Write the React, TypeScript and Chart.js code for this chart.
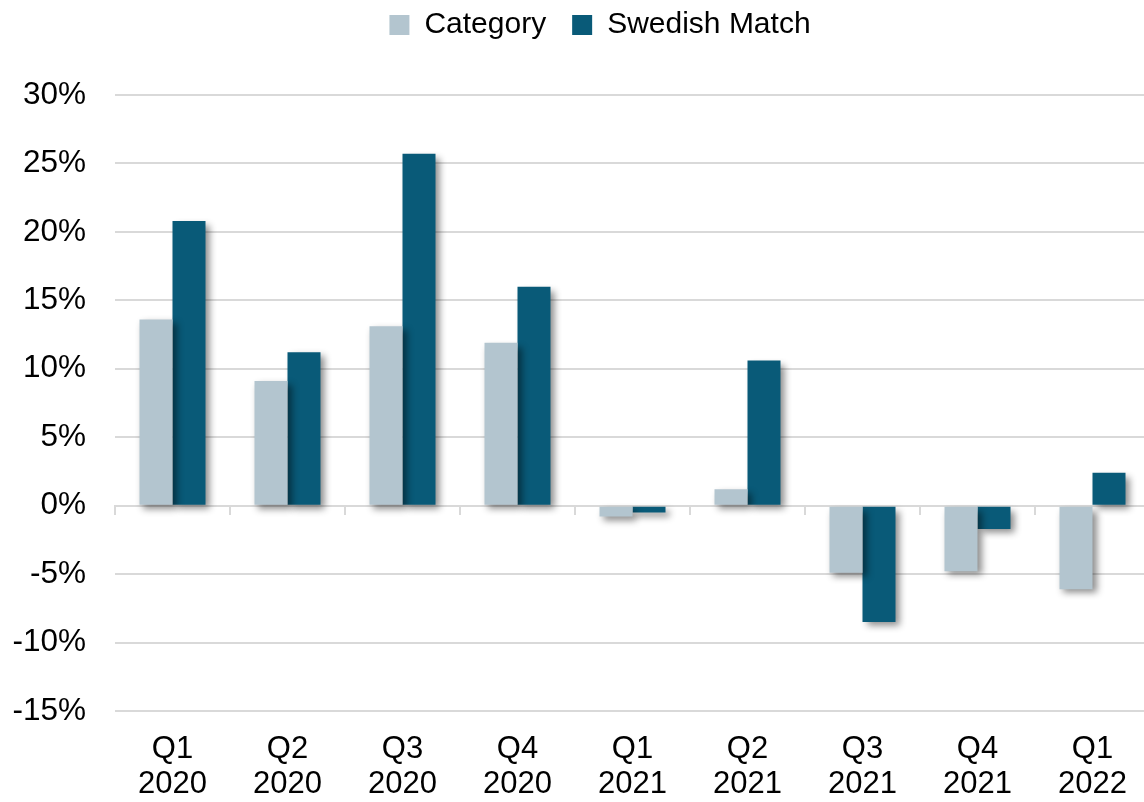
import React, { useEffect, useRef } from "react";
import { Chart, registerables } from "chart.js";

Chart.register(...registerables);

const categories: string[][] = [
  ["Q1", "2020"],
  ["Q2", "2020"],
  ["Q3", "2020"],
  ["Q4", "2020"],
  ["Q1", "2021"],
  ["Q2", "2021"],
  ["Q3", "2021"],
  ["Q4", "2021"],
  ["Q1", "2022"],
];

const categoryValues: number[] = [13.6, 9.1, 13.1, 11.9, -0.8, 1.2, -4.9, -4.8, -6.1];
const swedishMatchValues: number[] = [20.8, 11.2, 25.7, 16.0, -0.5, 10.6, -8.5, -1.7, 2.4];

const yMin = -15;
const yMax = 30;
const yStep = 5;

const FONT = "'Liberation Sans', Arial, sans-serif";

const shadowPlugin = {
  id: "barShadow",
  beforeDatasetsDraw(chart: any) {
    const ctx = chart.ctx;
    ctx.save();
    ctx.shadowColor = "rgba(0,0,0,0.45)";
    ctx.shadowBlur = 7;
    ctx.shadowOffsetX = 4;
    ctx.shadowOffsetY = 4;
  },
  afterDatasetsDraw(chart: any) {
    chart.ctx.restore();
  },
};

const legendTweak = {
  id: "legendTweak",
  beforeInit(chart: any) {
    const legend = chart.legend;
    if (!legend) return;
    const origFit = legend.fit;
    legend.fit = function fit() {
      origFit.call(this);
      this.height += 29;
    };
    const origDraw = legend.draw;
    legend.draw = function draw() {
      const ctx = this.ctx;
      ctx.save();
      ctx.translate(25, -16);
      origDraw.call(this);
      ctx.restore();
    };
  },
};

export default function App() {
  const ref = useRef<HTMLCanvasElement | null>(null);

  useEffect(() => {
    if (!ref.current) return;
    const chart = new Chart(ref.current, {
      type: "bar",
      data: {
        labels: categories,
        datasets: [
          {
            label: "Category",
            data: categoryValues,
            backgroundColor: "#b3c5cf",
            borderWidth: 0,
            categoryPercentage: 0.574,
            barPercentage: 1,
          },
          {
            label: "Swedish Match",
            data: swedishMatchValues,
            backgroundColor: "#095a78",
            borderWidth: 0,
            categoryPercentage: 0.574,
            barPercentage: 1,
          },
        ],
      },
      options: {
        animation: false,
        responsive: false,
        layout: { padding: { left: 0, right: 10, top: 0, bottom: 0 } },
        plugins: {
          tooltip: { enabled: false },
          legend: {
            position: "top",
            labels: {
              boxWidth: 20,
              boxHeight: 20,
              padding: 26,
              color: "#000",
              font: { family: FONT, size: 30 },
            },
          },
        },
        scales: {
          x: {
            type: "category",
            position: { y: 0 } as any,
            offset: true,
            grid: {
              offset: true,
              drawOnChartArea: false,
              drawTicks: true,
              tickLength: 8,
              color: "#d9d9d9",
              lineWidth: 2,
            },
            border: { display: true, color: "#d9d9d9", width: 2 },
            ticks: { display: false },
          },
          x2: {
            type: "category",
            position: "bottom",
            offset: true,
            grid: { display: false, offset: true, drawTicks: true, tickLength: 21 },
            border: { display: false },
            ticks: {
              color: "#000",
              padding: 0,
              maxRotation: 0,
              autoSkip: false,
              font: { family: FONT, size: 31, lineHeight: 35 / 31 },
            },
          },
          y: {
            min: yMin,
            max: yMax,
            afterFit: (s: any) => {
              s.width = 115;
            },
            grid: { color: "#d9d9d9", lineWidth: 2, drawTicks: false },
            border: { display: false },
            ticks: {
              stepSize: yStep,
              padding: 29,
              color: "#000",
              font: { family: FONT, size: 31.5 },
              callback: (v: any) => `${v}%`,
            },
          },
        },
      },
      plugins: [shadowPlugin, legendTweak],
    });
    return () => chart.destroy();
  }, []);

  return (
    <div
      style={{
        position: "absolute",
        left: 0,
        top: 0,
        width: 1144,
        height: 802,
        overflow: "hidden",
        background: "#fff",
      }}
    >
      <canvas ref={ref} width={1160} height={802} style={{ width: 1160, height: 802, display: "block" }} />
    </div>
  );
}
